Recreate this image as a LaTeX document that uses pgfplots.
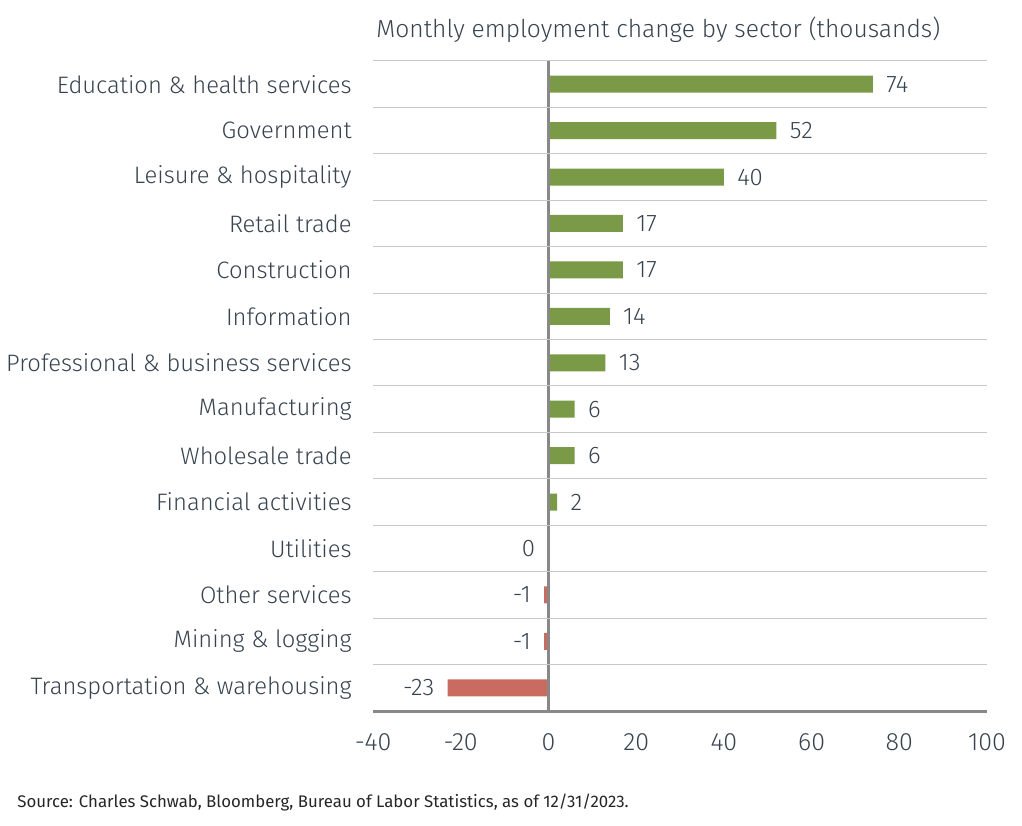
\documentclass[border=0pt]{standalone}
\usepackage{pgfplots}
\pgfplotsset{compat=1.18}
\usepackage{fontspec}
\setmainfont{Fira Sans Light}
\newfontfamily\srcfont{Fira Sans}
\definecolor{barpos}{HTML}{7A9A48}
\definecolor{barneg}{HTML}{C96B60}
\definecolor{txt}{HTML}{37434F}
\definecolor{gridc}{HTML}{C8C8C8}
\definecolor{axc}{HTML}{888888}

\begin{document}
\begin{tikzpicture}
% 1 px of the reference = 0.5pt
\path[use as bounding box] (0,0) rectangle (511pt,412.5pt);
\node[anchor=west, inner sep=0pt, text=txt, font=\fontsize{12.3}{14}\selectfont]
  at (188pt,397.5pt) {Monthly employment change by sector (thousands)};
\node[anchor=west, inner sep=0pt, text=black!85, font=\srcfont\fontsize{8.4}{10}\selectfont]
  at (8.5pt,11pt) {Source: Charles Schwab, Bloomberg, Bureau of Labor Statistics, as of 12/31/2023.};
\begin{axis}[
  at={(186.5pt,57pt)}, anchor=south west,
  scale only axis, width=307pt, height=325pt,
  xbar, bar width=8.5pt, bar shift=0pt,
  xmin=-40, xmax=100, ymin=-0.5, ymax=13.5,
  xtick={-40,-20,...,100},
  ytick={0,...,13},
  yticklabels={Transportation \& warehousing, Mining \& logging, Other services,
    Utilities, Financial activities, Wholesale trade, Manufacturing,
    Professional \& business services, Information, Construction, Retail trade,
    Leisure \& hospitality, Government, Education \& health services},
  major tick length=0pt,
  separate axis lines,
  axis x line*=bottom, axis y line*=left,
  x axis line style={draw=axc, line width=1.5pt, -},
  y axis line style={draw=none},
  axis on top,
  extra y ticks={0.5,1.5,...,13.5}, extra y tick labels={},
  extra y tick style={grid=major, major grid style={gridc, line width=0.5pt}},
  extra x ticks={0}, extra x tick labels={},
  extra x tick style={grid=major, major grid style={axc, line width=1.2pt}},
  /pgf/number format/assume math mode=true,
  tick label style={text=txt},
  xticklabel style={yshift=-8pt, font=\fontsize{12.5}{14}\selectfont},
  yticklabel style={inner sep=0pt, xshift=-10.5pt, font=\fontsize{11.9}{13}\selectfont},
  point meta=x,
  nodes near coords={\pgfmathprintnumber[assume math mode=true]{\pgfplotspointmeta}},
  every node near coord/.append style={text=txt, font=\fontsize{12}{13}\selectfont, inner sep=6.5pt},
]
\addplot[fill=barpos, draw=none,
  every node near coord/.append style={anchor=west}] coordinates {
  (74,13) (52,12) (40,11) (17,10) (17,9) (14,8) (13,7) (6,6) (6,5) (2,4)
};
\addplot[fill=barneg, draw=none,
  every node near coord/.append style={anchor=east}] coordinates {
  (0,3) (-1,2) (-1,1) (-23,0)
};
\end{axis}
\end{tikzpicture}
\end{document}
